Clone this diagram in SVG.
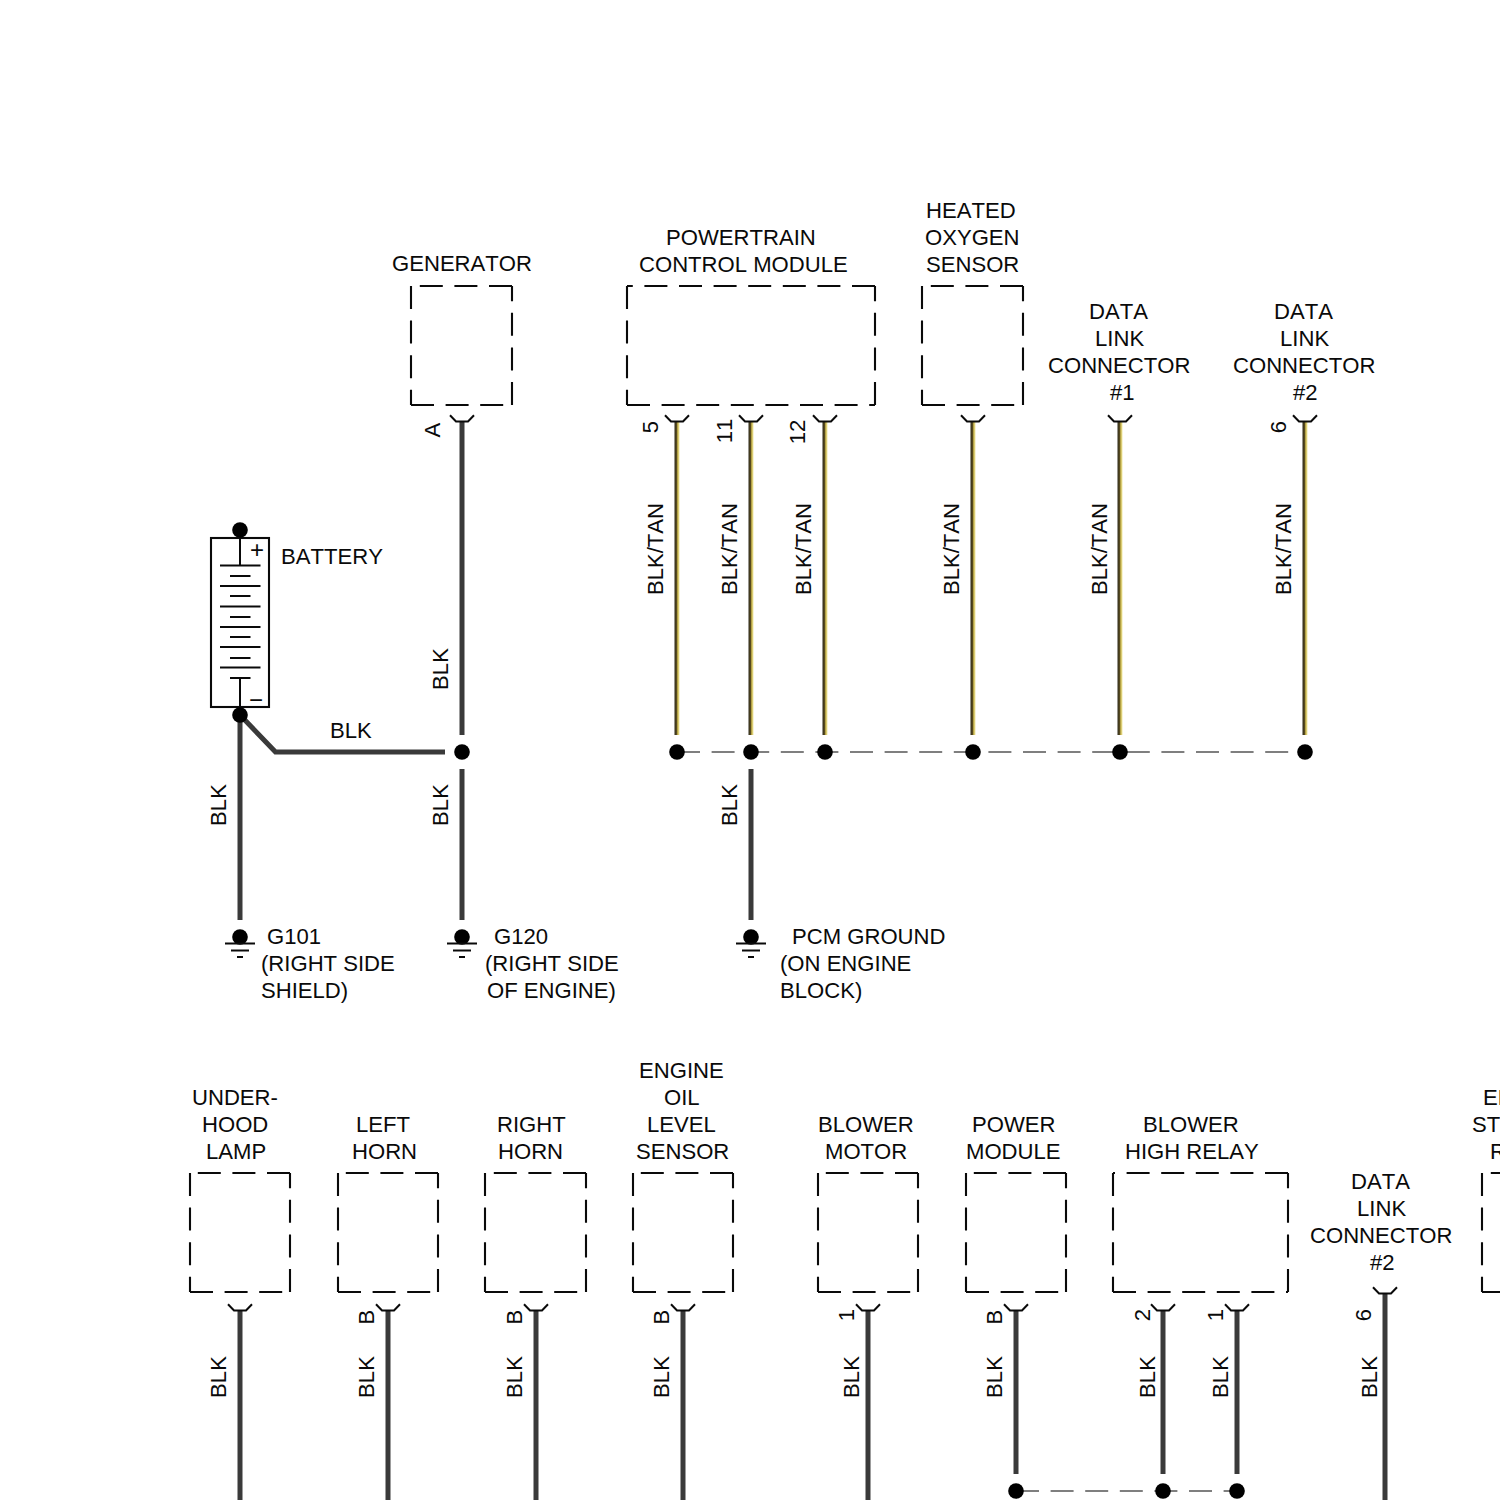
<svg xmlns="http://www.w3.org/2000/svg" width="1500" height="1500" viewBox="0 0 1500 1500">
<style>
text{font-family:"Liberation Sans",Arial,sans-serif;font-size:22.1px;font-kerning:none;fill:#0a0a0a}
.box{fill:none;stroke:#0a0a0a;stroke-width:2.1;stroke-dasharray:23 11.6}
.pin{fill:none;stroke:#0a0a0a;stroke-width:2}
.blk{fill:none;stroke:#3a3a3a;stroke-width:5}
.tan{fill:url(#tanWire)}
.link{fill:none;stroke:#555;stroke-width:1.6;stroke-dasharray:23 11.6}
.dot{fill:#000}
.thin{fill:none;stroke:#0a0a0a;stroke-width:2}
.bat{fill:none;stroke:#0a0a0a;stroke-width:2.1}
.sign{font-size:24px;text-anchor:middle}
.v{text-anchor:middle}
</style>
<defs>
<linearGradient id="tanWire" x1="0" y1="0" x2="1" y2="0">
<stop offset="0" stop-color="#2f2b1c"/>
<stop offset="0.4" stop-color="#55491f"/>
<stop offset="0.65" stop-color="#c9b64e"/>
<stop offset="1" stop-color="#f1e9a6"/>
</linearGradient>
<path id="pinTop" class="pin" d="M-12,-6.3 L-6,0 H6 L12,-6.3"/>
<g id="gnd"><circle class="dot" r="7.8"/><path class="thin" d="M-15,6.5 H15 M-9,13.5 H9 M-3,20 H3"/></g>
</defs>

<g id="connectors">
<path class="blk" d="M462,421 V735 M462,769 V920 M240,715 V920 M241,716 L275.500,752 H445 M751,769 V920"/>
<rect class="tan" x="674.500" y="421" width="5" height="314"/>
<rect class="tan" x="748.500" y="421" width="5" height="314"/>
<rect class="tan" x="822.500" y="421" width="5" height="314"/>
<rect class="tan" x="970.500" y="421" width="5" height="314"/>
<rect class="tan" x="1117.500" y="421" width="5" height="314"/>
<rect class="tan" x="1302.500" y="421" width="5" height="314"/>
<path class="link" d="M677,752 H1305"/>
<path class="link" d="M1016,1491 H1237"/>
<path class="blk" d="M240,1310 V1500 M388,1310 V1500 M536,1310 V1500 M683,1310 V1500 M868,1310 V1500 M1016,1310 V1474 M1163,1310 V1474 M1237,1310 V1474 M1385,1293 V1500"/>
<circle class="dot" cx="462" cy="752" r="7.800"/>
<circle class="dot" cx="677" cy="752" r="7.800"/>
<circle class="dot" cx="751" cy="752" r="7.800"/>
<circle class="dot" cx="825" cy="752" r="7.800"/>
<circle class="dot" cx="973" cy="752" r="7.800"/>
<circle class="dot" cx="1120" cy="752" r="7.800"/>
<circle class="dot" cx="1305" cy="752" r="7.800"/>
<circle class="dot" cx="1016" cy="1491" r="7.800"/>
<circle class="dot" cx="1163" cy="1491" r="7.800"/>
<circle class="dot" cx="1237" cy="1491" r="7.800"/>
<text class="v" transform="translate(225.500,805) rotate(-90)">BLK</text>
<text class="v" transform="translate(447.500,805) rotate(-90)">BLK</text>
<text class="v" transform="translate(736.500,805) rotate(-90)">BLK</text>
<text class="v" transform="translate(447.500,669) rotate(-90)">BLK</text>
<text x="330" y="737.500">BLK</text>
<text class="v" transform="translate(662.500,549) rotate(-90)">BLK/TAN</text>
<text class="v" transform="translate(736.500,549) rotate(-90)">BLK/TAN</text>
<text class="v" transform="translate(810.500,549) rotate(-90)">BLK/TAN</text>
<text class="v" transform="translate(958.500,549) rotate(-90)">BLK/TAN</text>
<text class="v" transform="translate(1106.500,549) rotate(-90)">BLK/TAN</text>
<text class="v" transform="translate(1290.500,549) rotate(-90)">BLK/TAN</text>
<text class="v" transform="translate(225.500,1377) rotate(-90)">BLK</text>
<text class="v" transform="translate(373.500,1377) rotate(-90)">BLK</text>
<text class="v" transform="translate(521.500,1377) rotate(-90)">BLK</text>
<text class="v" transform="translate(668.500,1377) rotate(-90)">BLK</text>
<text class="v" transform="translate(858.500,1377) rotate(-90)">BLK</text>
<text class="v" transform="translate(1001.500,1377) rotate(-90)">BLK</text>
<text class="v" transform="translate(1154.500,1377) rotate(-90)">BLK</text>
<text class="v" transform="translate(1227.500,1377) rotate(-90)">BLK</text>
<text class="v" transform="translate(1376.500,1377) rotate(-90)">BLK</text>
</g>

<g id="battery">
<rect class="bat" x="211" y="538" width="58" height="169"/>
<path class="thin" d="M240,538 V565.500 M220,565.500 H260.500 M230,576 H250.500 M220,586 H260.500 M230,596 H250.500 M220,606.500 H260.500 M230,617 H250.500 M220,627 H260.500 M230,637 H250.500 M220,647 H260.500 M230,658 H250.500 M220,667.500 H260.500 M230,678 H250.500 M240,678 V707"/>
<circle class="dot" cx="240" cy="530" r="7.800"/>
<circle class="dot" cx="240" cy="715" r="7.800"/>
<text class="sign" x="257" y="557.500">+</text>
<text class="sign" x="256" y="707.500">−</text>
<text x="281" y="563.500">BATTERY</text>
</g>

<g id="generator">
<path class="box" d="M411,286 V405 M411,405 H512 M512,405 V286 M512,286 H411"/>
<use href="#pinTop" x="462" y="421.500"/>
<text class="v" transform="translate(439.500,430) rotate(-90)">A</text>
<text x="392" y="270.500">GENERATOR</text>
</g>

<g id="pcm">
<path class="box" d="M627,286 V405 M627,405 H875 M875,405 V286 M875,286 H627"/>
<use href="#pinTop" x="677" y="421.500"/>
<use href="#pinTop" x="751" y="421.500"/>
<use href="#pinTop" x="825" y="421.500"/>
<text class="v" transform="translate(657.500,427) rotate(-90)">5</text>
<text class="v" transform="translate(731.500,431) rotate(-90)">11</text>
<text class="v" transform="translate(804.500,432) rotate(-90)">12</text>
<text x="666" y="244.500">POWERTRAIN</text>
<text x="639" y="271.500">CONTROL MODULE</text>
</g>

<g id="oxygen-sensor">
<path class="box" d="M922,286 V405 M922,405 H1023 M1023,405 V286 M1023,286 H922"/>
<use href="#pinTop" x="973" y="421.500"/>
<text x="926" y="217.500">HEATED</text>
<text x="925" y="244.500">OXYGEN</text>
<text x="926" y="271.500">SENSOR</text>
</g>

<g id="dlc1">
<use href="#pinTop" x="1120" y="421.500"/>
<text x="1089" y="318.500">DATA</text>
<text x="1095" y="345.500">LINK</text>
<text x="1048" y="372.500">CONNECTOR</text>
<text x="1110" y="399.500">#1</text>
</g>

<g id="dlc2">
<use href="#pinTop" x="1305" y="421.500"/>
<text class="v" transform="translate(1285.500,427) rotate(-90)">6</text>
<text x="1274" y="318.500">DATA</text>
<text x="1280" y="345.500">LINK</text>
<text x="1233" y="372.500">CONNECTOR</text>
<text x="1293" y="399.500">#2</text>
</g>

<g id="g101">
<use href="#gnd" x="240" y="937"/>
<text x="267" y="943.500">G101</text>
<text x="261" y="970.500">(RIGHT SIDE</text>
<text x="261" y="997.500">SHIELD)</text>
</g>

<g id="g120">
<use href="#gnd" x="462" y="937"/>
<text x="494" y="943.500">G120</text>
<text x="485" y="970.500">(RIGHT SIDE</text>
<text x="487" y="997.500">OF ENGINE)</text>
</g>

<g id="pcm-ground">
<use href="#gnd" x="751" y="937"/>
<text x="792" y="943.500">PCM GROUND</text>
<text x="780" y="970.500">(ON ENGINE</text>
<text x="780" y="997.500">BLOCK)</text>
</g>

<g id="underhood-lamp">
<path class="box" d="M190,1173 V1292 M190,1292 H290 M290,1292 V1173 M290,1173 H190"/>
<use href="#pinTop" x="240" y="1310.500"/>
<text x="192" y="1104.500">UNDER-</text>
<text x="202" y="1131.500">HOOD</text>
<text x="206" y="1158.500">LAMP</text>
</g>

<g id="left-horn">
<path class="box" d="M338,1173 V1292 M338,1292 H438 M438,1292 V1173 M438,1173 H338"/>
<use href="#pinTop" x="388" y="1310.500"/>
<text class="v" transform="translate(373.500,1317) rotate(-90)">B</text>
<text x="356" y="1131.500">LEFT</text>
<text x="352" y="1158.500">HORN</text>
</g>

<g id="right-horn">
<path class="box" d="M485,1173 V1292 M485,1292 H586 M586,1292 V1173 M586,1173 H485"/>
<use href="#pinTop" x="536" y="1310.500"/>
<text class="v" transform="translate(521.500,1317) rotate(-90)">B</text>
<text x="497" y="1131.500">RIGHT</text>
<text x="498" y="1158.500">HORN</text>
</g>

<g id="oil-level-sensor">
<path class="box" d="M633,1173 V1292 M633,1292 H733 M733,1292 V1173 M733,1173 H633"/>
<use href="#pinTop" x="683" y="1310.500"/>
<text class="v" transform="translate(668.500,1317) rotate(-90)">B</text>
<text x="639" y="1077.500">ENGINE</text>
<text x="664" y="1104.500">OIL</text>
<text x="647" y="1131.500">LEVEL</text>
<text x="636" y="1158.500">SENSOR</text>
</g>

<g id="blower-motor">
<path class="box" d="M818,1173 V1292 M818,1292 H918 M918,1292 V1173 M918,1173 H818"/>
<use href="#pinTop" x="868" y="1310.500"/>
<text class="v" transform="translate(853.500,1315) rotate(-90)">1</text>
<text x="818" y="1131.500">BLOWER</text>
<text x="825" y="1158.500">MOTOR</text>
</g>

<g id="power-module">
<path class="box" d="M966,1173 V1292 M966,1292 H1066 M1066,1292 V1173 M1066,1173 H966"/>
<use href="#pinTop" x="1016" y="1310.500"/>
<text class="v" transform="translate(1001.500,1317) rotate(-90)">B</text>
<text x="972" y="1131.500">POWER</text>
<text x="966" y="1158.500">MODULE</text>
</g>

<g id="blower-high-relay">
<path class="box" d="M1113,1173 V1292 M1113,1292 H1288 M1288,1292 V1173 M1288,1173 H1113"/>
<use href="#pinTop" x="1163" y="1310.500"/>
<use href="#pinTop" x="1237" y="1310.500"/>
<text class="v" transform="translate(1149.500,1315) rotate(-90)">2</text>
<text class="v" transform="translate(1222.500,1315) rotate(-90)">1</text>
<text x="1143" y="1131.500">BLOWER</text>
<text x="1125" y="1158.500">HIGH RELAY</text>
</g>

<g id="dlc2-lower">
<use href="#pinTop" x="1385" y="1293.500"/>
<text class="v" transform="translate(1370.500,1315) rotate(-90)">6</text>
<text x="1351" y="1188.500">DATA</text>
<text x="1357" y="1215.500">LINK</text>
<text x="1310" y="1242.500">CONNECTOR</text>
<text x="1370" y="1269.500">#2</text>
</g>

<g id="cut-off-node">
<path class="box" d="M1482,1173 V1292 M1482,1292 H1583 M1583,1173 H1482"/>
<text x="1483" y="1104.500">EN</text>
<text x="1472" y="1131.500">ST</text>
<text x="1490" y="1158.500">R</text>
</g>
</svg>
